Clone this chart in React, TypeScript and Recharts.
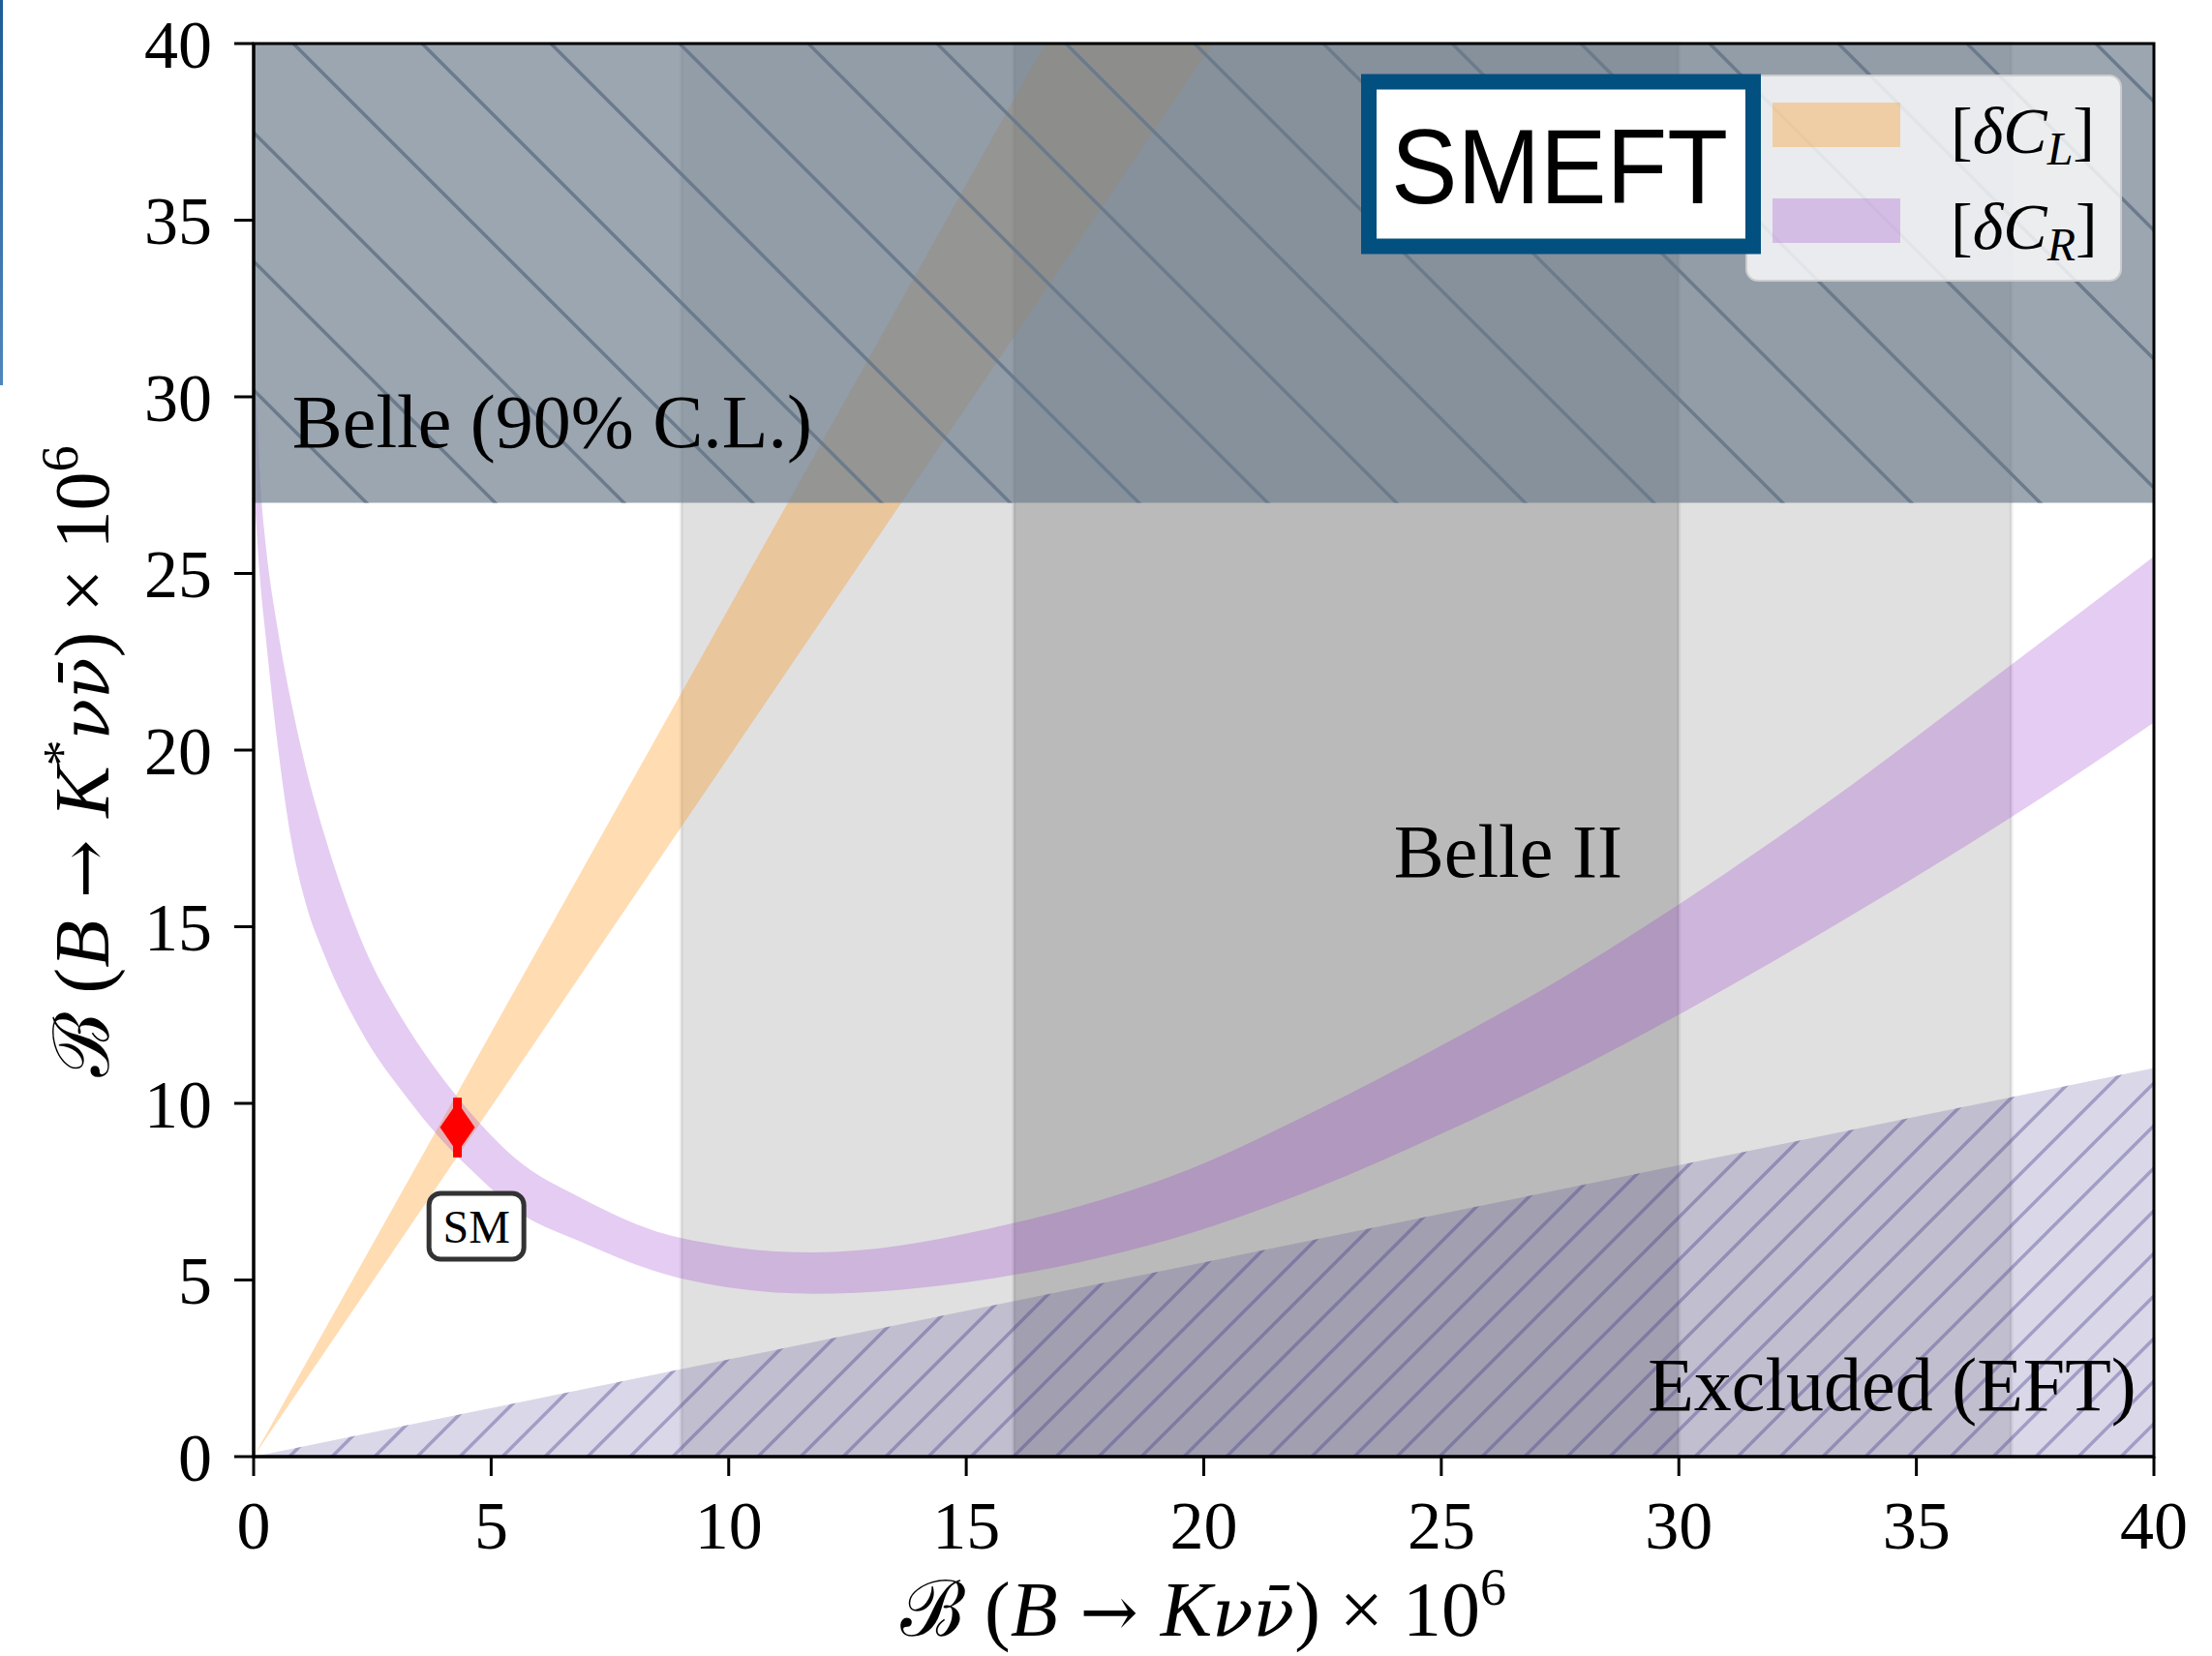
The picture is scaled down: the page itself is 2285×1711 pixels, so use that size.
import React from "react";
import {
  ComposedChart,
  XAxis,
  YAxis,
  Area,
  Scatter,
  ErrorBar,
  ReferenceArea,
  ReferenceDot,
  Legend,
} from "recharts";

const TICKS = [0, 5, 10, 15, 20, 25, 30, 35, 40];

// [δC_L] wedge, both edges go through the origin
const DCL_X = [0, 20.2];
const DCL_LO = [0, 40];
const DCL_HI = [0, 48.5];

// [δC_R] band, lower and upper edge
const DCR_X = [0, 0.17, 0.24, 0.51, 0.8, 1.08, 1.49, 2.24, 3.26, 3.9, 4.75, 5.5, 6.89, 8.92, 11.78, 15.9, 19.78, 22.37, 25.02, 27.67, 29.3, 33.1, 37.0, 40];
const DCR_LO = [27.5, 24.3, 23.4, 20.1, 17.4, 15.75, 14.2, 12.1, 10.1, 9.05, 7.9, 7.0, 6.08, 5.07, 4.61, 5.12, 6.35, 7.6, 9.15, 10.85, 12.0, 14.9, 18.1, 20.78];
const DCR_HI = [32, 27, 26, 23.4, 21.3, 19.6, 17.6, 14.7, 12.1, 10.85, 9.45, 8.45, 7.32, 6.21, 5.78, 6.58, 8.18, 9.8, 11.65, 13.65, 15.02, 18.49, 22.42, 25.48];

// EFT excluded triangle
const EXCL_X = [0, 40];
const EXCL_Y = [0, 11.0];

// Belle 90% C.L. upper limit, Belle II projections
const BELLE_Y = [27, 40];
const BELLE2_OUTER = [9, 37];
const BELLE2_INNER = [16, 30];

// SM prediction
const SM_X = 4.29;
const SM_Y = 9.32;
const SM_ERR = [0.85, 0.84];

const SERIES_NAMES = ["L", "R"];
const SERIES_COLORS = ["#ff8c00", "#9932cc"];
const SERIES_ALPHA = [0.3, 0.25];

const W = 2285;
const H = 1711;
const SERIF = "Liberation Serif";

const dclData = DCL_X.map((x, i) => ({ x, band: [DCL_LO[i], DCL_HI[i]] }));
const dcrData = DCR_X.map((x, i) => ({ x, band: [DCR_LO[i], DCR_HI[i]] }));
const exclData = EXCL_X.map((x, i) => ({ x, y: EXCL_Y[i] }));
const smData = [{ x: SM_X, y: SM_Y, err: SM_ERR }];

const textAt = (label: string, size: number, anchor: "start" | "end" | "middle") =>
  (p: any) => (
    <text x={p.cx} y={p.cy} textAnchor={anchor} fontFamily={SERIF} fontSize={size} fill="#000">
      {label}
    </text>
  );

const smBox = (p: any) => (
  <g>
    <rect x={p.cx - 49} y={p.cy - 34} width={98} height={68} rx={12} fill="#fff" stroke="#333" strokeWidth={5} />
    <text x={p.cx} y={p.cy + 17} textAnchor="middle" fontFamily={SERIF} fontSize={48} fill="#000">
      SM
    </text>
  </g>
);

const diamond = (p: any) => (
  <polygon
    points={`${p.cx},${p.cy - 26} ${p.cx + 18},${p.cy} ${p.cx},${p.cy + 26} ${p.cx - 18},${p.cy}`}
    fill="red"
  />
);

function XTitle() {
  return (
    <text x={1243} y={1690} textAnchor="middle" fontFamily={SERIF} fontSize={80} fill="#000">
      <tspan>ℬ (</tspan>
      <tspan fontStyle="italic">B</tspan>
      <tspan fontFamily="DejaVu Serif" fontSize={72}> → </tspan>
      <tspan fontStyle="italic">K</tspan>
      <tspan fontStyle="italic" fontFamily="DejaVu Serif" fontSize={70}>νν̄</tspan>
      <tspan>) × 10</tspan>
      <tspan dy={-32} fontSize={54}>6</tspan>
    </text>
  );
}

function YTitle() {
  return (
    <text
      x={112}
      y={787}
      transform="rotate(-90, 112, 787)"
      textAnchor="middle"
      fontFamily={SERIF}
      fontSize={80}
      fill="#000"
    >
      <tspan>ℬ (</tspan>
      <tspan fontStyle="italic">B</tspan>
      <tspan fontFamily="DejaVu Serif" fontSize={72}> → </tspan>
      <tspan fontStyle="italic">K</tspan>
      <tspan dy={-30} fontSize={54}>*</tspan>
      <tspan dy={30} fontStyle="italic" fontFamily="DejaVu Serif" fontSize={70}>νν̄</tspan>
      <tspan>) × 10</tspan>
      <tspan dy={-32} fontSize={54}>6</tspan>
    </text>
  );
}

function LegendBox() {
  return (
    <svg width={800} height={230} style={{ overflow: "visible" }}>
      <rect x={404} y={8} width={387} height={212} rx={12} fill="#fff" fillOpacity={0.8} stroke="#cccccc" strokeWidth={2} />
      {SERIES_NAMES.map((s, i) => (
        <g key={s}>
          <rect x={431} y={36 + i * 99} width={132} height={46} fill={SERIES_COLORS[i]} fillOpacity={SERIES_ALPHA[i]} />
          <text x={615} y={88 + i * 99} fontFamily={SERIF} fontSize={68} fill="#000">
            <tspan>[</tspan>
            <tspan fontStyle="italic">δC</tspan>
            <tspan fontStyle="italic" fontSize={48} dy={12}>{s}</tspan>
            <tspan dy={-12}>]</tspan>
          </text>
        </g>
      ))}
      <rect x={14} y={14.5} width={397} height={170} fill="#fff" stroke="#02507f" strokeWidth={16} />
      <text
        x={37}
        y={140}
        fontFamily="Liberation Sans"
        fontSize={110}
        textLength={348}
        lengthAdjust="spacingAndGlyphs"
        fill="#000"
      >
        SMEFT
      </text>
    </svg>
  );
}

export default function App() {
  const tick = { fontFamily: SERIF, fontSize: 70, fill: "#000" };
  const line = { stroke: "#000", strokeWidth: 3 };
  return (
    <div style={{ position: "absolute", left: 0, top: 0, width: W, height: H, background: "#fff" }}>
      <div
        style={{
          position: "absolute",
          left: 0,
          top: 0,
          width: 3,
          height: 398,
          background: "linear-gradient(#1d5c96, #4f86bb)",
        }}
      />
      <svg width={0} height={0} style={{ position: "absolute" }}>
        <defs>
          <pattern id="belleHatch" patternUnits="userSpaceOnUse" width={133} height={133} patternTransform="translate(-8,0)">
            <path d="M0,0 L133,133 M-12,121 L12,145 M121,-12 L145,12" stroke="#6b7b8b" strokeWidth={3.5} />
          </pattern>
          <pattern id="exclHatch" patternUnits="userSpaceOnUse" width={44} height={44}>
            <path d="M0,44 L44,0 M-6,6 L6,-6 M38,50 L50,38" stroke="#483d8b" strokeOpacity={0.38} strokeWidth={3.5} />
          </pattern>
        </defs>
      </svg>
      <ComposedChart width={W} height={H} margin={{ top: 45, right: 60, left: 62, bottom: 56 }}>
        <XAxis
          type="number"
          dataKey="x"
          domain={[0, 40]}
          ticks={TICKS}
          allowDataOverflow
          height={150}
          tick={tick}
          tickLine={line}
          axisLine={line}
          tickSize={20}
          tickMargin={25}
          label={<XTitle />}
        />
        <YAxis
          type="number"
          domain={[0, 40]}
          ticks={TICKS}
          allowDataOverflow
          width={200}
          tick={tick}
          tickLine={line}
          axisLine={line}
          tickSize={20}
          tickMargin={23}
          label={<YTitle />}
        />
        <ReferenceArea
          x1={BELLE2_OUTER[0]}
          x2={BELLE2_OUTER[1]}
          y1={0}
          y2={40}
          fill="#000"
          fillOpacity={0.12}
          stroke="#000"
          strokeOpacity={0.06}
          strokeWidth={4}
          zIndex={10}
        />
        <ReferenceArea
          x1={BELLE2_INNER[0]}
          x2={BELLE2_INNER[1]}
          y1={0}
          y2={40}
          fill="#000"
          fillOpacity={0.17}
          stroke="#000"
          strokeOpacity={0.06}
          strokeWidth={4}
          zIndex={11}
        />
        <Area
          data={exclData}
          dataKey="y"
          baseValue={0}
          type="linear"
          fill="#483d8b"
          fillOpacity={0.2}
          stroke="none"
          isAnimationActive={false}
          zIndex={20}
        />
        <Area
          data={exclData}
          dataKey="y"
          baseValue={0}
          type="linear"
          fill="url(#exclHatch)"
          fillOpacity={1}
          stroke="none"
          isAnimationActive={false}
          zIndex={21}
        />
        <Area
          data={dclData}
          dataKey="band"
          name="[δC_L]"
          type="linear"
          fill={SERIES_COLORS[0]}
          fillOpacity={SERIES_ALPHA[0]}
          stroke="none"
          isAnimationActive={false}
          zIndex={30}
        />
        <Area
          data={dcrData}
          dataKey="band"
          name="[δC_R]"
          type="monotone"
          fill={SERIES_COLORS[1]}
          fillOpacity={SERIES_ALPHA[1]}
          stroke="none"
          isAnimationActive={false}
          zIndex={40}
        />
        <ReferenceArea
          x1={0}
          x2={40}
          y1={BELLE_Y[0]}
          y2={BELLE_Y[1]}
          fill="#708090"
          fillOpacity={0.7}
          stroke="none"
          zIndex={50}
        />
        <ReferenceArea
          x1={0}
          x2={40}
          y1={BELLE_Y[0]}
          y2={BELLE_Y[1]}
          fill="url(#belleHatch)"
          fillOpacity={1}
          stroke="none"
          zIndex={51}
        />
        <ReferenceArea x1={0} x2={40} y1={0} y2={40} fill="none" stroke="#000" strokeWidth={3} zIndex={60} />
        <ReferenceDot x={0.81} y={28.58} r={0} shape={textAt("Belle (90% C.L.)", 78, "start")} zIndex={70} />
        <ReferenceDot x={24.0} y={16.4} r={0} shape={textAt("Belle II", 78, "start")} zIndex={70} />
        <ReferenceDot x={39.63} y={1.32} r={0} shape={textAt("Excluded (EFT)", 78, "end")} zIndex={70} />
        <ReferenceDot x={4.69} y={6.52} r={0} shape={smBox} zIndex={70} />
        <Scatter data={smData} dataKey="y" shape={diamond} isAnimationActive={false} zIndex={80}>
          <ErrorBar dataKey="err" direction="y" width={0} stroke="red" strokeWidth={9} isAnimationActive={false} />
        </Scatter>
        <Legend
          layout="horizontal"
          verticalAlign="middle"
          align="center"
          content={() => <LegendBox />}
          wrapperStyle={{ position: "absolute", left: 1400, top: 70, width: 800, height: 230 }}
        />
      </ComposedChart>
    </div>
  );
}
